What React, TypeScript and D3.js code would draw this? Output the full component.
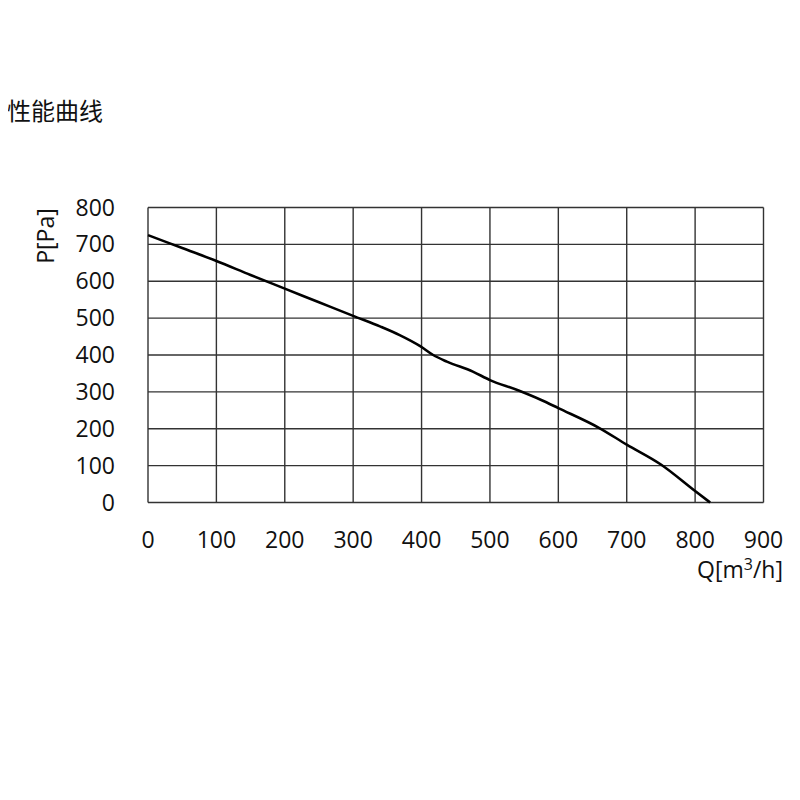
import React, { useRef, useEffect } from 'react';
import * as d3 from 'd3';

// Fan performance curve
const flow = [0, 50, 100, 150, 200, 250, 300, 340, 368, 398, 417, 437, 475, 500, 540, 575, 600, 660, 700, 750, 800, 822];
const pressure = [725, 690, 655, 617, 580, 543, 506, 477, 454, 424, 400, 382, 355, 332, 305, 278, 256, 202, 157, 103, 31, 0];

const xTicks = [0, 100, 200, 300, 400, 500, 600, 700, 800, 900];
const yTicks = [0, 100, 200, 300, 400, 500, 600, 700, 800];

const title = '性能曲线';

export default function App() {
    const svgRef = useRef<SVGSVGElement>(null);

    useEffect(() => {
        if (!svgRef.current) return;
        const svg = d3.select(svgRef.current);
        svg.selectAll('*').remove();

        const left = 148, right = 763.5, top = 207.5, bottom = 502.5;
        const font = '"Open Sans", "Noto Sans", sans-serif';

        const x = d3.scaleLinear().domain([0, 900]).range([left, right]);
        const y = d3.scaleLinear().domain([0, 800]).range([bottom, top]);

        svg.append('rect').attr('width', 800).attr('height', 800).attr('fill', '#fff');

        svg.append('text')
            .attr('x', 7)
            .attr('y', 120)
            .attr('font-family', '"Noto Sans CJK SC", sans-serif')
            .attr('font-size', 24)
            .attr('fill', '#111')
            .text(title);

        const grid = svg.append('g').attr('stroke', '#333').attr('stroke-width', 1.4);
        xTicks.forEach(t => {
            grid.append('line')
                .attr('x1', x(t)).attr('x2', x(t))
                .attr('y1', top).attr('y2', bottom);
        });
        yTicks.forEach(t => {
            grid.append('line')
                .attr('x1', left).attr('x2', right)
                .attr('y1', y(t)).attr('y2', y(t));
        });

        const line = d3.line<number>()
            .x((_, i) => x(flow[i]))
            .y(d => y(d))
            .curve(d3.curveMonotoneX);

        svg.append('path')
            .datum(pressure)
            .attr('d', line)
            .attr('fill', 'none')
            .attr('stroke', '#000')
            .attr('stroke-width', 2.6);

        svg.append('g').selectAll('text')
            .data(yTicks)
            .enter()
            .append('text')
            .attr('x', 115)
            .attr('y', d => y(d) + 8)
            .attr('text-anchor', 'end')
            .attr('font-family', font)
            .attr('font-size', 23)
            .attr('fill', '#111')
            .text(d => d);

        svg.append('g').selectAll('text')
            .data(xTicks)
            .enter()
            .append('text')
            .attr('x', d => x(d))
            .attr('y', 548)
            .attr('text-anchor', 'middle')
            .attr('font-family', font)
            .attr('font-size', 23)
            .attr('fill', '#111')
            .text(d => d);

        svg.append('text')
            .attr('transform', 'translate(54,236) rotate(-90)')
            .attr('text-anchor', 'middle')
            .attr('font-family', font)
            .attr('font-size', 23)
            .attr('fill', '#111')
            .text('P[Pa]');

        const qLabel = svg.append('text')
            .attr('x', 783)
            .attr('y', 578)
            .attr('text-anchor', 'end')
            .attr('font-family', font)
            .attr('font-size', 23)
            .attr('fill', '#111');
        qLabel.append('tspan').text('Q[m');
        qLabel.append('tspan').attr('font-size', 16).attr('dy', -8).text('3');
        qLabel.append('tspan').attr('dy', 8).text('/h]');
    }, []);

    return (
        <svg ref={svgRef} width={800} height={800} style={{ display: 'block', margin: -8 }} />
    );
}
